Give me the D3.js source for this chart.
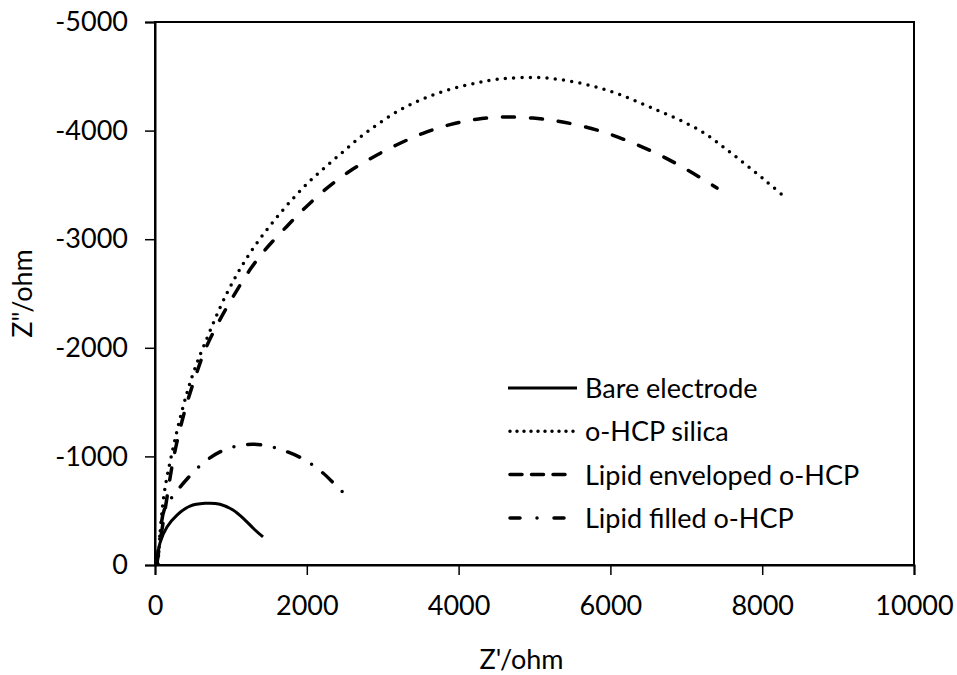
<!DOCTYPE html>
<html>
<head>
<meta charset="utf-8">
<script src="https://cdn.jsdelivr.net/npm/d3@7"></script>
<style>
  body { margin: 0; background: #fff; }
  text { font-family: Lato, "Open Sans", sans-serif; fill: #000; }
</style>
</head>
<body>
<div id="container"></div>
<script>
// Nyquist data: [Z', Z'']
var bare = [[26, -18], [66, -203], [158, -350], [290, -460], [461, -543], [659, -568],
  [856, -560], [1028, -506], [1186, -414], [1291, -341], [1423, -258]];
var silica = [[40, -10], [80, -400], [130, -700], [224, -1031], [369, -1455], [501, -1760],
  [659, -2044], [949, -2505], [1252, -2873], [1607, -3204], [2003, -3510], [2398, -3757],
  [2793, -3987], [3228, -4190], [3663, -4328], [4111, -4420], [4545, -4475], [5165, -4484],
  [5863, -4392], [6522, -4217], [7181, -4000], [7615, -3780], [8063, -3527], [8327, -3370]];
var enveloped = [[26, -18], [132, -506], [250, -1004], [395, -1427], [540, -1750], [659, -1980],
  [856, -2260], [1028, -2470], [1252, -2720], [1449, -2900], [1739, -3120], [1950, -3270],
  [2213, -3440], [2530, -3610], [2833, -3740], [3188, -3870], [3531, -3975], [3887, -4055],
  [4242, -4105], [4585, -4125], [4980, -4115], [5296, -4088], [5665, -4035], [6021, -3960],
  [6350, -3870], [6693, -3760], [7022, -3635], [7405, -3471]];
var filled = [[26, -18], [60, -250], [130, -524], [264, -658], [422, -792], [619, -930],
  [856, -1041], [1146, -1105], [1423, -1105], [1713, -1050], [1976, -967], [2213, -847],
  [2411, -712], [2490, -660]];

var seriesNames = ["Bare electrode", "o-HCP silica", "Lipid enveloped o-HCP", "Lipid filled o-HCP"];
var seriesData = [bare, silica, enveloped, filled];
var dashes = [null, "0 8.3", "12 16", "13 14 0 14"];
var legendDashes = [null, "0 7", "12 9.5", "10 17 0 17"];

var xTicks = [0, 2000, 4000, 6000, 8000, 10000];
var yTicks = [0, -1000, -2000, -3000, -4000, -5000];

var width = 957, height = 675;
var plotLeft = 155, plotRight = 914, plotTop = 22, plotBottom = 565;

var svg = d3.select("#container").append("svg")
    .attr("width", width)
    .attr("height", height);

var x = d3.scaleLinear().domain([0, 10000]).range([plotLeft, plotRight]);
var y = d3.scaleLinear().domain([0, -5000]).range([plotBottom, plotTop]);

// plain hyphen for negatives, like the original
var fmt = function(d) { return String(d); };

// box around plot
svg.append("rect")
    .attr("x", plotLeft).attr("y", plotTop)
    .attr("width", plotRight - plotLeft).attr("height", plotBottom - plotTop)
    .attr("fill", "none").attr("stroke", "#000").attr("stroke-width", 2);

var xAxis = svg.append("g")
    .attr("transform", "translate(0," + plotBottom + ")")
    .call(d3.axisBottom(x).tickValues(xTicks).tickSize(10).tickPadding(21).tickFormat(fmt));
var yAxis = svg.append("g")
    .attr("transform", "translate(" + plotLeft + ",0)")
    .call(d3.axisLeft(y).tickValues(yTicks).tickSize(10).tickPadding(17).tickFormat(fmt));

[xAxis, yAxis].forEach(function(a) {
  a.select(".domain").attr("stroke-width", 2);
  a.selectAll(".tick line").attr("stroke-width", 1.5);
  a.selectAll("text").style("font-size", "27px").attr("fill", "#000").style("font-family", "Lato, sans-serif");
});

svg.append("text")
    .attr("x", (plotLeft + plotRight) / 2 - 13).attr("y", 669)
    .attr("text-anchor", "middle")
    .style("font-size", "27px")
    .text("Z'/ohm");

svg.append("text")
    .attr("transform", "translate(32," + ((plotTop + plotBottom) / 2) + ") rotate(-90)")
    .attr("text-anchor", "middle")
    .style("font-size", "27px")
    .text("Z\"/ohm");

var line = d3.line()
    .x(function(d) { return x(d[0]); })
    .y(function(d) { return y(d[1]); })
    .curve(d3.curveCatmullRom.alpha(0.5));

seriesData.forEach(function(s, i) {
  svg.append("path")
      .datum(s)
      .attr("d", line)
      .attr("fill", "none")
      .attr("stroke", "#000")
      .attr("stroke-width", i == 0 ? 3 : 3.5)
      .attr("stroke-linecap", i == 0 ? "butt" : "round")
      .attr("stroke-dasharray", dashes[i]);
});

// legend
var legend = svg.append("g").attr("transform", "translate(508,388)");
seriesNames.forEach(function(name, i) {
  var row = legend.append("g").attr("transform", "translate(0," + i * 43.3 + ")");
  row.append("line")
      .attr("x1", i == 0 ? 0 : 2).attr("x2", i == 0 ? 69 : 66)
      .attr("stroke", "#000")
      .attr("stroke-width", i == 0 ? 3 : 3.5)
      .attr("stroke-linecap", i == 0 ? "butt" : "round")
      .attr("stroke-dasharray", legendDashes[i]);
  row.append("text")
      .attr("x", 77).attr("y", 10)
      .style("font-size", "27px")
      .text(name);
});
</script>
</body>
</html>
